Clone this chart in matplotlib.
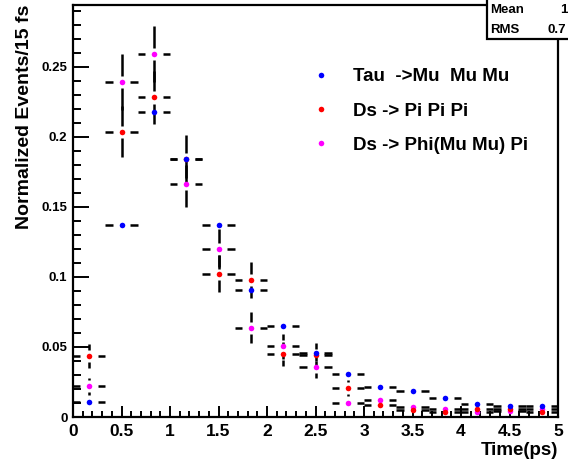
import numpy as np
import matplotlib
matplotlib.use('Agg')
import matplotlib.pyplot as plt
from matplotlib.patches import Rectangle
from matplotlib.ticker import MultipleLocator

# bin centres (15 bins of 1/3 ps between 0 and 5 ps)
bin_centres = [0.167, 0.5, 0.833, 1.167, 1.5, 1.833, 2.167, 2.5,
               2.833, 3.167, 3.5, 3.833, 4.167, 4.5, 4.833]
half_width = 1.0 / 6

# Tau -> Mu Mu Mu
tau = [0.011, 0.137, 0.218, 0.184, 0.137, 0.0905, 0.065, 0.046,
       0.031, 0.0214, 0.0184, 0.0136, 0.0095, 0.0079, 0.0079]
tau_err = [0.002, 0.004, 0.004, 0.004, 0.004, 0.004, 0.003, 0.003,
           0.003, 0.002, 0.002, 0.002, 0.002, 0.002, 0.002]

# Ds -> Pi Pi Pi
ds_pi = [0.0434, 0.2036, 0.228, 0.184, 0.1024, 0.0976, 0.0448, 0.0443,
         0.0207, 0.0089, 0.0048, 0.0036, 0.0055, 0.0055, 0.0036]
ds_pi_err = [0.0085, 0.018, 0.019, 0.0175, 0.013, 0.0128, 0.0085, 0.0085,
             0.0058, 0.0038, 0.0028, 0.0024, 0.003, 0.003, 0.0024]

# Ds -> Phi(Mu Mu) Pi
ds_phi = [0.022, 0.239, 0.259, 0.166, 0.1198, 0.0638, 0.0505, 0.0357,
          0.0103, 0.012, 0.007, 0.006, 0.0036, 0.004, 0.0055]
ds_phi_err = [0.006, 0.02, 0.02, 0.0165, 0.014, 0.011, 0.009, 0.0078,
              0.0042, 0.0045, 0.0034, 0.0031, 0.0024, 0.0026, 0.003]

series = [
    ('Ds -> Phi(Mu Mu) Pi', ds_phi, ds_phi_err, '#ff00ff', 3),
    ('Ds -> Pi Pi Pi', ds_pi, ds_pi_err, '#ff0000', 4),
    ('Tau  ->Mu  Mu Mu', tau, tau_err, '#0000ff', 5),
]

plt.rcParams['font.family'] = ['Liberation Sans', 'DejaVu Sans']
plt.rcParams['font.weight'] = 'bold'
plt.rcParams['axes.labelweight'] = 'bold'

fig = plt.figure(figsize=(5.68, 4.62), dpi=100)
ax = fig.add_axes([73 / 568, 45 / 462, 485 / 568, 412 / 462])
ax.set_xlim(0, 5)
ax.set_ylim(0, 0.294)

# ROOT-like error bars: gap around the marker
gap_x = 0.092
gap_y = 0.0043
handles = {}
for name, vals, errs, col, z in series:
    x = np.array(bin_centres)
    y = np.array(vals)
    e = np.array(errs)
    ax.hlines(y, x - half_width, x - gap_x, color='black', lw=1.8, zorder=2)
    ax.hlines(y, x + gap_x, x + half_width, color='black', lw=1.8, zorder=2)
    m = e > gap_y
    ax.vlines(x[m], y[m] + gap_y, y[m] + e[m], color='black', lw=1.8, zorder=2)
    ax.vlines(x[m], y[m] - e[m], y[m] - gap_y, color='black', lw=1.8, zorder=2)
    h, = ax.plot(x, y, 'o', ms=4, color=col, mew=0, zorder=z, label=name)
    handles[name] = h

order = ['Tau  ->Mu  Mu Mu', 'Ds -> Pi Pi Pi', 'Ds -> Phi(Mu Mu) Pi']
ax.legend([handles[k] for k in order], order, loc='upper left',
          bbox_to_anchor=(0.533, 0.873), bbox_transform=fig.transFigure,
          frameon=False, fontsize=13.5, handlelength=1.0, handletextpad=1.2,
          borderpad=0, labelspacing=0.92, markerscale=1.0)

# axes styling
for s in ax.spines.values():
    s.set_linewidth(1.6)
ax.xaxis.set_major_locator(MultipleLocator(0.5))
ax.xaxis.set_minor_locator(MultipleLocator(0.1))
ax.yaxis.set_major_locator(MultipleLocator(0.05))
ax.yaxis.set_minor_locator(MultipleLocator(0.01))
ax.tick_params(axis='both', which='both', direction='in', top=False, right=False, width=1.4)
ax.tick_params(axis='x', which='major', length=8, labelsize=12.5, pad=5)
ax.tick_params(axis='x', which='minor', length=4.5)
ax.tick_params(axis='y', which='major', length=11.5, labelsize=9.5, pad=4)
ax.tick_params(axis='y', which='minor', length=6)
ax.set_xticklabels(['%g' % v for v in ax.get_xticks()])
ax.set_yticklabels(['%g' % v for v in ax.get_yticks()])

ax.set_ylabel('Normalized Events/15 fs', fontsize=14, loc='top', labelpad=6)
ax.set_xlabel('Time(ps)', fontsize=13.5, loc='right', labelpad=2)

# stats box in the top right corner
box = Rectangle((487 / 568, 1 - 39 / 462), 0.2, 0.2, transform=fig.transFigure,
                facecolor='white', edgecolor='black', lw=1.6, zorder=5)
fig.patches.append(box)
fig.text(490 / 568, 1 - 10 / 462, 'Mean', fontsize=9.5, va='center', zorder=6)
fig.text(560 / 568, 1 - 10 / 462, '1', fontsize=9.5, va='center', zorder=6)
fig.text(490 / 568, 1 - 30 / 462, 'RMS', fontsize=9.5, va='center', zorder=6)
fig.text(547 / 568, 1 - 30 / 462, '0.7', fontsize=9.5, va='center', zorder=6)

fig.savefig('out.png', dpi=100)
